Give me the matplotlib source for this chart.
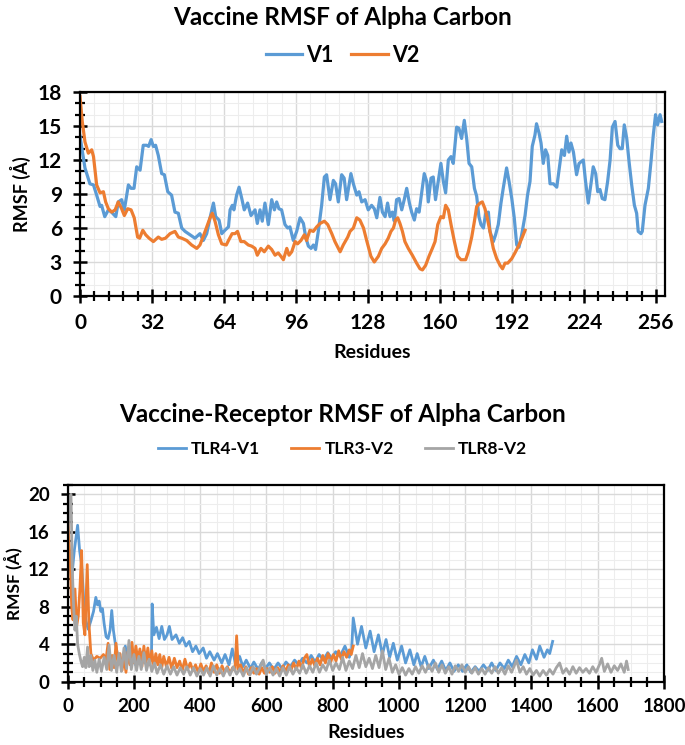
import numpy as np
import matplotlib
matplotlib.use("Agg")
import matplotlib.pyplot as plt
from matplotlib.ticker import MultipleLocator

plt.rcParams['font.family'] = ['Lato', 'DejaVu Sans']
plt.rcParams['font.weight'] = 'bold'

BLUE = '#5B9BD5'
ORANGE = '#ED7D31'
GREY = '#A5A5A5'

# ---- top chart: vaccine RMSF ----
v1_res = [0, 2.2, 4.4, 6, 7.4, 8.9, 9.6, 11, 12.6, 14, 15.9, 17, 18.5, 19.7, 21.5, 22.7, 24, 25.2, 26.7,
          28.1, 29.6, 30.5, 31.6, 32.6, 33.6, 34.8, 36.3, 37.5, 39, 40.7, 42.2, 43.7, 45.2, 46.7, 48.9,
          51.1, 53.3, 54.8, 56.3, 57.8, 59.3, 60.3, 61.8, 63, 64.4, 66,
          66.7, 67.7, 68.4, 69.6, 70.7, 71.9, 73, 74.5, 76, 77.8, 78.8, 80, 81, 82.2, 83.7, 85.2, 86.4,
          87.4, 88.4, 89.6, 91.1, 92.3, 93.3, 94.8, 96.3, 97.8, 99.3, 100.3, 101.5, 102.7, 103.7, 104.7,
          105.9, 107.4, 108.6, 109.6, 111.1, 112.6, 113.6, 114.8, 116.3, 117.4, 118.5, 119.6, 120.4,
          121.5, 123, 124, 125.2, 126.7, 128.1, 129.6, 130.8, 131.9, 133.3,
          134.4, 135.6, 136.7, 137.8, 138.8, 139.7, 140.7, 141.8, 143, 144.1, 145.2, 146.4, 147.4, 148.6,
          149.6, 150.7, 151.9, 153, 154.1, 154.8, 156, 157, 158, 159.3, 160.4, 161.5, 162.5, 163.7,
          164.9, 165.9, 167.4, 168.4, 169.6, 170.8, 171.9, 172.9, 174.1, 175.3, 176.3, 177.3, 178.2,
          179.3, 180.3, 181.5, 182.2, 183.7, 184.7, 185.9, 187.1, 188.1, 189.6, 190.7, 191.9, 193, 194.1,
          195.1, 196.3, 197.8, 198.9, 200,
          201, 202.2, 202.9, 204, 204.9, 205.9, 206.9, 207.9, 208.9, 210.4, 211.9, 212.9, 214.1, 215.3,
          216.3, 217.3, 218.2, 219.3, 220.7, 221.8, 223.7, 224.7, 225.9, 227.1, 228.1, 229.2, 230.1,
          231.1, 232.1, 233.3, 234.5, 235.6, 236.6, 237.8, 239, 240, 241, 241.9, 243, 244, 245.2, 246.4,
          247.4, 248.1, 249.3, 249.9, 251.1, 252.6, 253.8, 254.8, 255.8, 256.7, 257.8, 258.5]
v1_rmsf = [14.1, 11.3, 9.9, 9.8, 8.9, 7.9, 8.0, 7.0, 7.6, 7.4, 7.0, 8.3, 8.5, 7.6, 9.8, 9.5, 9.5, 11.4, 11.1,
           13.3, 13.3, 13.2, 13.8, 13.2, 13.3, 12.4, 10.8, 10.7, 9.2, 8.9, 7.4, 7.3, 6.0, 5.7, 5.4,
           5.1, 5.5, 4.9, 5.5, 6.9, 8.2, 7.0, 6.7, 5.5, 5.8, 6.1,
           7.6, 8.0, 7.6, 8.9, 9.6, 8.6, 7.6, 8.2, 7.1, 7.6, 6.4, 7.6, 6.6, 8.2, 6.3, 8.5, 7.6,
           8.3, 7.7, 7.6, 6.3, 6.0, 6.1, 4.9, 5.7, 6.9, 6.4, 5.2, 4.4, 4.2, 4.5, 4.1,
           5.7, 8.0, 10.5, 10.7, 8.5, 10.2, 9.9, 8.3, 10.7, 10.4, 8.5, 9.8, 10.8,
           9.9, 8.9, 9.2, 8.3, 8.5, 7.6, 8.0, 7.7, 6.9, 8.7,
           7.4, 7.0, 8.2, 7.0, 7.4, 6.6, 8.5, 8.6, 7.6, 8.5, 9.5, 8.2, 7.4, 6.7,
           7.7, 7.4, 9.2, 10.8, 10.1, 8.3, 10.4, 10.5, 8.5, 10.2, 11.7, 10.1, 9.1, 12.0,
           12.3, 11.7, 14.9, 14.8, 13.9, 15.5, 13.8, 11.7, 11.4, 9.5, 8.8, 7.0, 6.3,
           6.0, 7.3, 7.4, 5.7, 4.8, 5.4, 6.3, 8.2, 9.5, 11.3, 10.1, 8.6, 6.9, 4.5,
           4.3, 5.4, 7.1, 8.9, 10.1,
           13.2, 14.2, 15.2, 14.4, 13.5, 11.7, 12.9, 12.4, 9.9, 9.9, 9.6, 11.1, 12.9, 12.4,
           14.1, 12.7, 13.5, 12.7, 10.7, 11.7, 12.0, 10.1, 8.2, 9.9, 11.4, 10.8, 9.2,
           9.4, 8.6, 8.5, 10.1, 12.0, 14.9, 15.4, 13.3, 13.0, 13.0, 15.1, 13.9, 11.9, 9.8, 8.0,
           7.3, 5.7, 5.5, 5.7, 8.0, 9.5, 11.9, 14.2, 16.0, 15.1, 16.0, 15.4]

v2_res = [0, 1, 2.2, 3.7, 5.2, 6, 7.4, 8.9, 10.4, 11.4, 12.6, 14.1, 15.6, 17, 18.5, 19.7, 21.2, 22.7,
          24.1, 25.6, 26.5, 27.9, 29.2, 30.7, 32.6, 34.8, 36.3, 38, 40, 42.2, 43.7, 45.2, 47.4, 49.6,
          51.9, 53.3, 55.6, 57.8, 58.8, 60, 61.5, 63, 65, 66, 67.6, 68.9, 70, 71.5, 73, 74.8, 76.3,
          77.8, 78.8, 80.4, 81.9, 83.7, 85.2, 86.7, 88.1, 89.3, 90.4, 91.9, 92.9, 94.1, 95.6, 96.7,
          98.2, 99.7, 100.7, 102.2, 103.7, 105.2, 106.7, 108.6, 110.1, 111.9, 113.3, 115.6, 117, 119,
          120, 121.5, 123, 124.4, 126, 127.4, 129.3, 130.8, 132.6, 134.1, 135.6, 137, 138.2, 139.3,
          140.3, 141.2, 142.2, 143.3, 144.4, 145.9, 147.7, 149.6, 151.1, 152.2, 153.6, 155.1, 156.6,
          157.8, 159, 160.4, 161.5, 162.5, 163.7, 164.9, 166.4, 167.9, 169.3, 171.4, 172.6, 174.1,
          175.3, 176.3, 177.8, 178.8, 180, 181, 182.2, 183.7, 185.2, 186.7, 187.8, 188.9, 190.1,
          191.9, 193.3, 195.1, 196.6, 197.8]
v2_rmsf = [17.6, 15.4, 13.6, 12.6, 12.9, 12.3, 9.8, 9.1, 9.2, 8.3, 7.7, 7.4, 7.6, 8.3, 7.7, 7.1, 7.7, 7.6,
           6.9, 5.2, 5.1, 5.8, 5.4, 5.1, 4.8, 5.2, 5.0, 5.1, 5.5, 5.7, 5.2, 5.1, 4.9, 4.5,
           4.2, 4.5, 5.7, 6.9, 7.3, 6.6, 5.4, 4.6, 4.5, 4.9, 5.5, 5.5, 5.7, 4.8, 4.8, 4.5, 4.4,
           4.2, 3.6, 4.2, 3.9, 4.4, 4.1, 3.6, 3.8, 3.5, 3.2, 4.2, 3.6, 3.9, 4.8, 4.6,
           4.9, 5.4, 4.9, 5.8, 5.7, 6.1, 6.4, 6.6, 6.3, 5.5, 4.8, 3.9, 4.5, 5.2,
           5.7, 6.0, 6.9, 6.7, 6.0, 4.9, 3.5, 3.0, 3.5, 4.2, 4.6, 5.1, 5.7, 6.0,
           6.7, 6.9, 6.4, 5.7, 4.8, 4.2, 3.6, 2.9, 2.4, 2.3, 2.7, 3.5, 4.2,
           4.8, 6.3, 7.0, 6.9, 8.0, 7.6, 6.3, 4.8, 3.5, 3.2, 3.2, 3.9, 5.2,
           6.6, 7.9, 8.2, 8.3, 7.7, 6.9, 5.7, 4.2, 3.3, 2.7, 2.4, 2.9, 2.9,
           3.3, 3.8, 4.5, 5.2, 5.8]

# ---- bottom chart: vaccine-receptor RMSF ----
tlr4_res = [0, 5, 12, 20, 30, 36, 42, 48, 55, 62, 70, 78, 85, 90, 95, 100, 105, 110, 116, 122, 128, 133,
            138, 144, 150, 156, 162, 168, 174, 180, 186, 192, 198, 205, 212, 219, 226, 233, 240, 247, 253,
            255, 260, 268, 276, 284, 292, 300, 307, 315, 327, 337, 347, 357, 367, 377, 387, 397, 409,
            419, 429, 442, 452, 465, 475, 487, 497, 507, 519, 529, 539, 552, 562, 575, 587, 597, 609,
            622, 635, 647, 659, 672, 685, 697, 709, 722, 735, 747, 759, 772, 785, 797, 809, 822, 837,
            850, 857, 862, 875, 887, 900, 913, 925, 938, 950, 961, 972, 983, 995, 1008, 1020, 1033,
            1045, 1055, 1067, 1078, 1090, 1104, 1116, 1129, 1141, 1154, 1166, 1179, 1192, 1205, 1217,
            1230, 1242, 1255, 1268, 1280, 1292, 1305, 1318, 1330, 1342, 1355, 1368, 1380, 1392, 1403,
            1415, 1425, 1438, 1448, 1455, 1464]
tlr4_rmsf = [14.5, 13.0, 11.0, 14.0, 16.7, 14.0, 12.5, 9.0, 6.5, 5.6, 6.5, 7.5, 9.0, 8.2, 8.6, 7.5, 7.8,
             6.2, 4.8, 4.6, 5.5, 7.6, 5.5, 4.0, 3.0, 2.2, 1.7, 2.5, 3.8, 2.0, 3.5, 2.0, 3.0, 1.8, 3.1,
             1.9, 3.2, 2.0, 3.0, 2.1, 2.8, 8.3, 5.0, 5.8, 4.6, 5.9, 4.5, 5.0, 5.9, 4.5, 5.0, 4.1, 4.7,
             3.8, 4.3, 3.2, 3.8, 3.0, 3.6, 2.5, 3.2, 2.3, 3.0, 2.0, 2.9, 1.8, 3.5, 1.8, 2.7, 1.6, 2.3,
             1.4, 2.1, 1.3, 2.1, 1.4, 2.0, 1.3, 2.0, 1.4, 2.1, 1.6, 2.3, 1.8, 2.5, 2.0, 2.8, 2.1, 2.9,
             2.3, 3.1, 2.5, 3.2, 2.7, 3.8, 2.6, 3.3, 6.8, 4.0, 5.9, 3.6, 5.4, 3.2, 5.0, 2.9, 4.5, 2.6,
             4.1, 2.3, 3.8, 2.0, 3.4, 1.8, 3.0, 1.6, 2.7, 1.4, 2.3, 1.3, 2.2, 1.2, 2.0, 1.1, 1.8, 1.1,
             1.8, 1.0, 1.6, 1.1, 1.8, 1.2, 2.0, 1.2, 2.0, 1.4, 2.3, 1.6, 2.7, 1.8, 2.9, 2.0, 3.4, 2.4,
             3.8, 2.6, 3.4, 3.0, 4.3]

tlr3_res = [0, 4, 8, 12, 16, 22, 27, 32, 37, 42, 47, 52, 59, 64, 70, 78, 88, 98, 108, 115, 122, 127, 134,
            140, 146, 152, 158, 164, 170, 176, 182, 188, 194, 200, 206, 212, 218, 224, 230, 236, 242,
            248, 254, 260, 266, 272, 278, 284, 290, 298, 306, 314, 322, 330, 338, 346, 354, 362, 370,
            378, 386, 394, 402, 410, 418, 426, 434, 442, 450, 458, 466, 474, 482, 490, 498, 505, 510,
            515, 522, 530, 538, 546, 554, 562, 570, 578, 586, 594, 602, 610, 618, 626, 634, 642, 650,
            658, 666, 674, 682, 690, 698, 706, 714, 722, 730, 738, 746, 754, 762, 770, 778, 786, 794,
            802, 810, 818, 826, 834, 842, 850, 856, 862]
tlr3_rmsf = [18.5, 15.0, 12.7, 8.0, 6.6, 9.9, 5.9, 7.0, 10.0, 14.0, 6.3, 5.0, 12.5, 6.3, 3.0, 2.3, 2.7,
             2.5, 2.9, 2.2, 4.1, 1.3, 2.8, 1.5, 4.1, 1.8, 3.0, 1.2, 2.5, 1.0, 3.2, 1.8, 4.2, 2.0, 3.8,
             2.2, 3.5, 1.6, 3.8, 2.0, 3.6, 1.8, 3.3, 1.6, 3.0, 1.8, 2.9, 1.5, 2.7, 1.6, 2.6, 1.4, 2.5,
             1.5, 2.2, 1.2, 2.4, 1.3, 2.0, 1.2, 1.8, 1.0, 1.9, 1.1, 1.7, 0.9, 2.0, 1.0, 1.8, 0.9, 1.7,
             1.0, 1.6, 0.9, 1.5, 1.2, 4.9, 1.3, 1.8, 0.9, 1.6, 0.8, 1.5, 0.9, 1.4, 0.8, 1.5, 0.9, 1.4,
             1.0, 1.6, 0.9, 1.5, 1.0, 1.7, 1.1, 1.8, 1.2, 2.0, 1.3, 2.2, 1.4, 2.5, 2.9, 1.6, 2.4, 1.7,
             2.5, 1.8, 2.8, 2.0, 3.0, 2.1, 2.9, 2.2, 3.3, 2.4, 3.2, 2.6, 3.4, 2.9, 3.8]

tlr8_res = [0, 5, 10, 14, 18, 22, 26, 30, 35, 40, 45, 50, 55, 60, 65, 70, 76, 82, 88, 95, 102, 110, 118,
            125, 132, 140, 148, 155, 162, 170, 178, 185, 192, 200, 208, 215, 222, 230, 238, 246, 254,
            262, 270, 280, 290, 300, 310, 320, 330, 340, 350, 360, 370, 380, 390, 400, 410, 420, 430,
            440, 450, 460, 470, 480, 490, 500, 510, 520, 530, 540, 550, 560, 570, 580, 590, 600, 610,
            620, 630, 640, 650, 660, 670, 680, 690, 700, 710, 720, 730, 740, 750, 760, 770, 780, 790,
            800, 810, 820, 830, 840, 850, 860, 870, 880, 890, 900, 910, 920, 930, 940, 950, 960, 970,
            980, 990, 1000, 1010, 1020, 1030, 1040, 1050, 1060, 1070, 1080, 1090, 1100, 1110, 1120,
            1130, 1140, 1150, 1160, 1170, 1180, 1190, 1200, 1210, 1220, 1230, 1240, 1250, 1260, 1270,
            1280, 1290, 1300, 1310, 1320, 1330, 1340, 1355, 1365, 1375, 1385, 1395, 1405, 1415, 1425,
            1435, 1445, 1455, 1465, 1475, 1485, 1495, 1505, 1515, 1525, 1535, 1545, 1555, 1565, 1575,
            1585, 1595, 1605, 1612, 1620, 1630, 1640, 1650, 1660, 1670, 1680, 1687, 1692]
tlr8_rmsf = [15.0, 19.5, 20.0, 12.0, 8.0, 5.5, 7.0, 4.0, 3.0, 2.2, 1.6, 2.6, 1.5, 3.7, 1.6, 2.8, 1.2, 2.3,
             1.0, 2.4, 1.1, 2.6, 1.3, 3.9, 1.2, 2.8, 1.0, 3.0, 1.1, 3.6, 1.4, 4.4, 1.3, 2.9, 1.2, 2.7,
             1.3, 3.1, 1.2, 2.4, 1.1, 2.0, 0.9, 1.8, 0.8, 1.7, 0.8, 1.6, 0.7, 1.5, 0.8, 1.6, 0.7, 1.5,
             0.6, 1.4, 0.7, 1.5, 0.6, 1.7, 0.7, 1.4, 0.6, 1.5, 0.7, 1.6, 0.8, 1.4, 0.6, 1.5, 0.7, 1.6,
             0.8, 1.5, 2.3, 0.8, 1.5, 0.7, 1.4, 0.6, 1.5, 0.7, 1.6, 0.8, 1.5, 0.9, 1.8, 0.9, 1.7, 1.0,
             2.0, 1.0, 1.8, 1.2, 2.3, 1.2, 2.0, 1.3, 2.6, 1.2, 2.2, 1.4, 2.8, 1.5, 3.0, 1.6, 2.5, 1.4,
             2.8, 1.5, 3.3, 1.3, 2.5, 1.0, 1.8, 0.8, 1.5, 0.7, 1.4, 0.8, 1.6, 0.9, 1.7, 1.0, 1.8, 1.1,
             2.0, 1.0, 1.8, 0.9, 1.6, 0.8, 1.7, 1.1, 1.8, 1.0, 1.6, 0.9, 1.5, 0.8, 1.4, 0.8, 1.5, 0.9,
             1.6, 0.9, 1.5, 0.8, 1.7, 1.0, 2.3, 1.0, 1.6, 0.8, 1.4, 0.7, 1.2, 0.6, 1.2, 0.7, 1.3, 0.8,
             1.5, 2.0, 0.9, 1.4, 0.8, 1.6, 0.9, 1.5, 1.0, 1.4, 0.9, 1.6, 1.0, 1.8, 2.5, 1.1, 1.9, 1.0,
             1.7, 1.2, 1.9, 1.0, 2.2, 1.3]


def style_axes(ax, xmax, xmaj, xmin, ymax, ymaj, ymin, size):
    ax.set_xlim(0, xmax)
    ax.set_ylim(0, ymax)
    ax.xaxis.set_major_locator(MultipleLocator(xmaj))
    ax.xaxis.set_minor_locator(MultipleLocator(xmin))
    ax.yaxis.set_major_locator(MultipleLocator(ymaj))
    ax.yaxis.set_minor_locator(MultipleLocator(ymin))
    ax.grid(which='major', color='#D9D9D9', lw=1.0)
    ax.grid(which='minor', color='#EDEDED', lw=0.8)
    ax.set_axisbelow(True)
    for s in ax.spines.values():
        s.set_linewidth(1.6)
        s.set_color('black')
    ax.tick_params(which='major', direction='inout', length=10, width=1.8, labelsize=size)
    ax.tick_params(axis='x', which='major', pad=7)
    ax.tick_params(axis='y', which='major', pad=8)
    ax.tick_params(which='minor', direction='inout', length=7, width=1.6)
    for lab in ax.get_xticklabels() + ax.get_yticklabels():
        lab.set_fontweight('bold')


fig = plt.figure(figsize=(6.85, 7.45), dpi=100)

# top panel
ax1 = fig.add_axes([0.1168, 0.6027, 0.854, 0.2738])
ax1.plot(v1_res, v1_rmsf, color=BLUE, lw=2.3, label='V1')
ax1.plot(v2_res, v2_rmsf, color=ORANGE, lw=2.3, label='V2')
style_axes(ax1, 260, 32, 6.4, 18, 3, 1, 15)
ax1.set_xlabel('Residues', fontsize=14, fontweight='bold', labelpad=8)
ax1.set_ylabel('RMSF (Å)', fontsize=13, fontweight='bold', labelpad=5)
fig.text(0.5, 0.976, 'Vaccine RMSF of Alpha Carbon', ha='center', va='center',
         fontsize=17.5, fontweight='bold')
fig.legend(*ax1.get_legend_handles_labels(), loc='center', bbox_to_anchor=(0.5, 0.926), ncol=2,
           frameon=False, handlelength=1.7, handletextpad=0.2, columnspacing=0.8,
           prop={'weight': 'bold', 'size': 15.5})

# bottom panel
ax2 = fig.add_axes([0.0988, 0.085, 0.8705, 0.264])
ax2.plot(tlr4_res, tlr4_rmsf, color=BLUE, lw=2.0, label='TLR4-V1')
ax2.plot(tlr3_res, tlr3_rmsf, color=ORANGE, lw=2.0, label='TLR3-V2')
ax2.plot(tlr8_res, tlr8_rmsf, color=GREY, lw=2.0, label='TLR8-V2')
style_axes(ax2, 1800, 200, 50, 21, 4, 1, 13.5)
ax2.set_yticks(np.arange(0, 21, 4))
ax2.set_xlabel('Residues', fontsize=14, fontweight='bold', labelpad=6)
ax2.set_ylabel('RMSF (Å)', fontsize=12.5, fontweight='bold', labelpad=4)
fig.text(0.5, 0.444, 'Vaccine-Receptor RMSF of Alpha Carbon', ha='center', va='center',
         fontsize=17.5, fontweight='bold')
fig.legend(*ax2.get_legend_handles_labels(), loc='center', bbox_to_anchor=(0.5, 0.397), ncol=3,
           frameon=False, handlelength=1.6, handletextpad=0.3, columnspacing=1.8,
           prop={'weight': 'bold', 'size': 12.5})

fig.savefig('out.png', dpi=100)
